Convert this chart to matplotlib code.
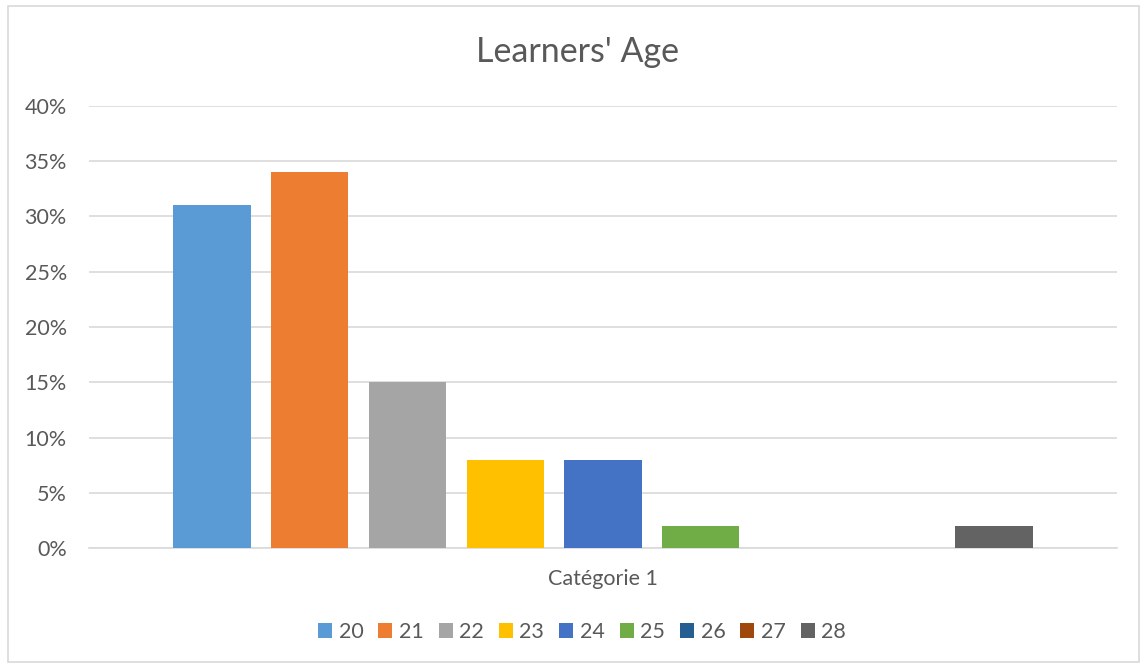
import matplotlib.pyplot as plt
from matplotlib.patches import Rectangle
from matplotlib.ticker import PercentFormatter

# Données
ages = ["20", "21", "22", "23", "24", "25", "26", "27", "28"]
values = [0.31, 0.34, 0.15, 0.08, 0.08, 0.02, 0.0, 0.0, 0.02]
colors = ["#5B9BD5", "#ED7D31", "#A5A5A5", "#FFC000", "#4472C4",
          "#70AD47", "#255E91", "#9E480E", "#636363"]
category = "Catégorie 1"

plt.rcParams["font.family"] = ["Lato", "DejaVu Sans"]
text_col = "#595959"

fig = plt.figure(figsize=(11.44, 6.66), dpi=100)
fig.patches.append(Rectangle((8 / 1144, 4 / 666), 1131 / 1144, 656 / 666,
                             transform=fig.transFigure, fill=False,
                             edgecolor="#D9D9D9", linewidth=1.2))

ax = fig.add_axes([89 / 1144, 1 - 548 / 666, 1028 / 1144, 442 / 666])

slot = 1.0
width = 0.79
n = len(ages)
for i, (age, v, c) in enumerate(zip(ages, values, colors)):
    ax.bar((i - (n - 1) / 2) * slot, v, width=width, color=c, label=age, zorder=3)

ax.set_xlim(-n / 2 * slot - 0.757, n / 2 * slot + 0.757)
ax.set_ylim(0, 0.40)
ax.set_yticks([i * 0.05 for i in range(9)])
ax.yaxis.set_major_formatter(PercentFormatter(1.0, decimals=0))
ax.grid(axis="y", color="#D9D9D9", linewidth=1.2, zorder=0)
ax.set_xticks([])
for s in ["top", "right", "left"]:
    ax.spines[s].set_visible(False)
ax.spines["bottom"].set_color("#D9D9D9")
ax.spines["bottom"].set_linewidth(1.2)
ax.tick_params(axis="y", length=0, labelsize=15.5, labelcolor=text_col, pad=16)

ax.text(0.5, -0.07, category, transform=ax.transAxes, ha="center", va="center",
        fontsize=15.5, color=text_col)
fig.text(577 / 1144, 1 - 52 / 666, "Learners' Age", ha="center", va="center",
         fontsize=24.5, color=text_col)

leg = fig.legend(loc="center", bbox_to_anchor=(582 / 1144, 1 - 632 / 666), ncol=n,
                 frameon=False, fontsize=15.5, handlelength=0.65, handleheight=0.65,
                 handletextpad=0.3, columnspacing=0.7, labelcolor=text_col)

fig.savefig("out.png", dpi=100)
